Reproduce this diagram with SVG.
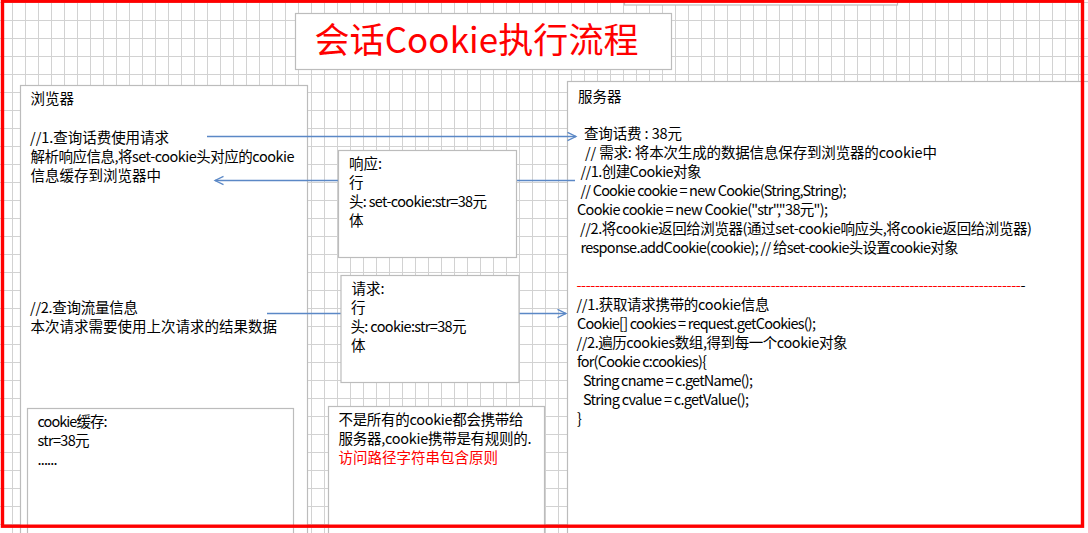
<svg xmlns="http://www.w3.org/2000/svg" width="1088" height="533" viewBox="0 0 1088 533">
<style>
.box{fill:#ffffff;stroke:#bcbcbc;stroke-width:1.2}
.t{font-family:"Noto Sans CJK SC","Noto Sans",sans-serif;font-size:14.5px;fill:#000}
.red{fill:#ff0000}
.conn{stroke:#5b88c6;stroke-width:1.6;fill:none}
</style>
<defs>
<pattern id="grid" patternUnits="userSpaceOnUse" x="12" y="2" width="13" height="18">
<path d="M0.5 0V18M0 0.5H13" stroke="#d2d2d2" stroke-width="1" fill="none"/>
</pattern>
<marker id="arr" markerUnits="userSpaceOnUse" markerWidth="12" markerHeight="12" refX="9" refY="5" orient="auto">
<path d="M0.5,0.8 L9,5 L0.5,9.2" fill="none" stroke="#5b88c6" stroke-width="1.3"/>
</marker>
</defs>
<rect x="0" y="0" width="1088" height="533" fill="#ffffff"/>
<rect x="0" y="0" width="1088" height="533" fill="url(#grid)"/>
<g id="top-box"><rect class="box" x="624.5" y="-20" width="273" height="25"/></g>
<g id="browser">
<rect class="box" x="20.5" y="85.5" width="287" height="470"/>
<text class="t" x="30.5" y="103.5">浏览器</text>
<text class="t" x="30" y="142.5" textLength="139">//1.查询话费使用请求</text>
<text class="t" x="30.5" y="161.5" textLength="264">解析响应信息,将set-cookie头对应的cookie</text>
<text class="t" x="30.5" y="180.5">信息缓存到浏览器中</text>
<text class="t" x="30" y="313" textLength="108">//2.查询流量信息</text>
<text class="t" x="30.5" y="332">本次请求需要使用上次请求的结果数据</text>
</g>
<g id="server">
<rect class="box" x="567.5" y="81.5" width="540" height="480"/>
<text class="t" x="578" y="101.5">服务器</text>
<text class="t" x="584" y="138.5" textLength="98">查询话费 : 38元</text>
<text class="t" x="585" y="157.5" textLength="352">// 需求: 将本次生成的数据信息保存到浏览器的cookie中</text>
<text class="t" x="580.5" y="176.5" textLength="121">//1.创建Cookie对象</text>
<text class="t" x="580.5" y="195.5" textLength="266">// Cookie cookie = new Cookie(String,String);</text>
<text class="t" x="577" y="214.5" textLength="251">Cookie cookie = new Cookie("str","38元");</text>
<text class="t" x="580" y="233.5" textLength="452">//2.将cookie返回给浏览器(通过set-cookie响应头,将cookie返回给浏览器)</text>
<text class="t" x="580.5" y="252.5" textLength="378">response.addCookie(cookie); // 给set-cookie头设置cookie对象</text>
<text class="t" x="576.5" y="291" textLength="449"><tspan class="red">------------------------------------------------------------------------------------------------</tspan><tspan>-</tspan></text>
<text class="t" x="576.5" y="310" textLength="193">//1.获取请求携带的cookie信息</text>
<text class="t" x="577" y="329" textLength="239">Cookie[] cookies = request.getCookies();</text>
<text class="t" x="576.5" y="348" textLength="271">//2.遍历cookies数组,得到每一个cookie对象</text>
<text class="t" x="577" y="367" textLength="130">for(Cookie c:cookies){</text>
<text class="t" x="583" y="386" textLength="170">String cname = c.getName();</text>
<text class="t" x="583" y="405" textLength="166">String cvalue = c.getValue();</text>
<text class="t" x="577" y="424">}</text>
</g>
<g id="connectors">
<line class="conn" x1="207" y1="136.5" x2="576" y2="136.5" marker-end="url(#arr)"/>
<line class="conn" x1="575" y1="180.5" x2="215" y2="180.5" marker-end="url(#arr)"/>
<line class="conn" x1="267" y1="313.5" x2="566" y2="313.5" marker-end="url(#arr)"/>
</g>
<g id="response">
<rect class="box" x="338.5" y="150.5" width="178" height="107"/>
<text class="t" x="349" y="168.5">响应:</text>
<text class="t" x="349" y="187.5">行</text>
<text class="t" x="349" y="206.5" textLength="138">头: set-cookie:str=38元</text>
<text class="t" x="349" y="225.5">体</text>
</g>
<g id="request">
<rect class="box" x="341" y="275.5" width="178" height="107"/>
<text class="t" x="351.5" y="294">请求:</text>
<text class="t" x="351" y="313">行</text>
<text class="t" x="350.5" y="332" textLength="116">头: cookie:str=38元</text>
<text class="t" x="351" y="351">体</text>
</g>
<g id="cookie-cache">
<rect class="box" x="27.5" y="408.5" width="266" height="150"/>
<text class="t" x="37.5" y="426.5" textLength="70">cookie缓存:</text>
<text class="t" x="37.5" y="445.5" textLength="52">str=38元</text>
<text class="t" x="37.5" y="464.5" textLength="20">......</text>
</g>
<g id="note">
<rect class="box" x="328.5" y="406.5" width="216" height="150"/>
<text class="t" x="338.5" y="424.5" textLength="185">不是所有的cookie都会携带给</text>
<text class="t" x="338.5" y="443.5" textLength="193">服务器,cookie携带是有规则的.</text>
<text class="t red" x="338.5" y="462.5">访问路径字符串包含原则</text>
</g>
<g id="title">
<rect class="box" x="295.5" y="13.5" width="376" height="56"/>
<text class="t red" x="314.5" y="53" style="font-size:35px" textLength="324">会话Cookie执行流程</text>
</g>
<g id="frame">
<rect x="2.5" y="1.2" width="1080" height="525" fill="none" stroke="#ff0000" stroke-width="3.4"/>
</g>
</svg>
